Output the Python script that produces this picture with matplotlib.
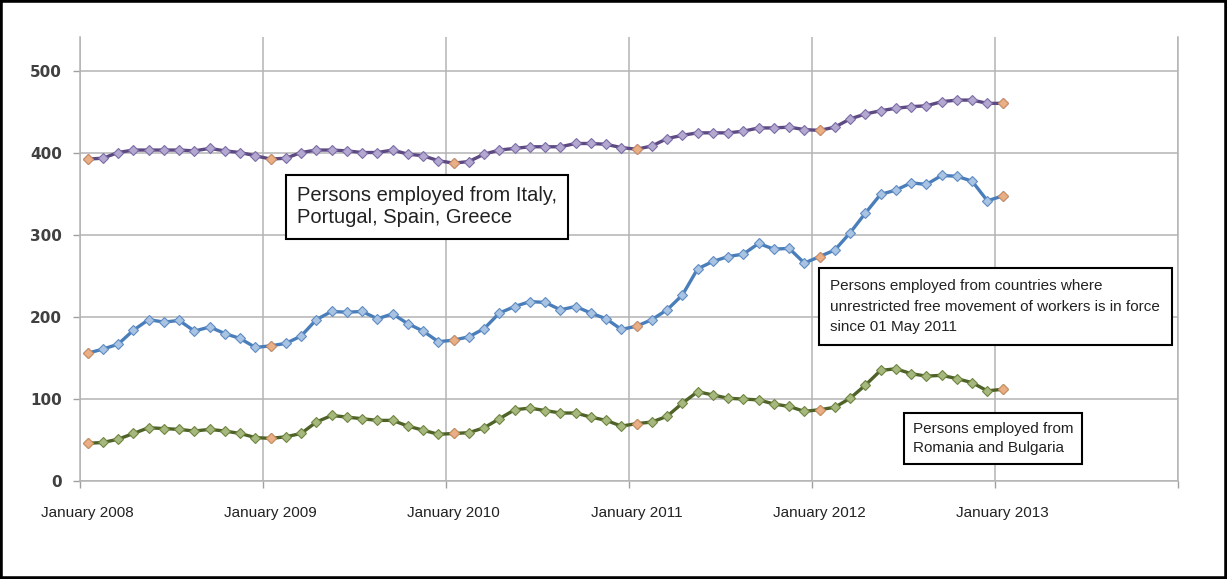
import numpy as np
import matplotlib
matplotlib.use('Agg')
import matplotlib.pyplot as plt
from matplotlib import font_manager as fm
from matplotlib.patches import Rectangle

# monthly values, January 2008 .. January 2013 (thousands)
south = [393, 394, 401, 404, 404, 404, 404, 403, 406, 403, 401, 397,
         393, 394, 401, 404, 404, 403, 401, 401, 404, 399, 397, 391,
         388, 390, 399, 404, 406, 408, 408, 408, 412, 412, 411, 407,
         405, 409, 418, 422, 425, 425, 425, 427, 431, 431, 432, 429,
         428, 432, 442, 448, 452, 455, 457, 458, 463, 465, 465, 461,
         461]
free_movement = [156, 161, 167, 184, 197, 194, 196, 183, 188, 180, 174, 163,
                 165, 168, 177, 197, 207, 206, 207, 198, 204, 192, 183, 170,
                 172, 176, 186, 205, 213, 219, 218, 209, 213, 205, 198, 185,
                 189, 197, 209, 227, 259, 268, 274, 277, 290, 283, 284, 266,
                 274, 282, 303, 327, 350, 355, 364, 362, 373, 372, 366, 342,
                 348]
ro_bg = [46, 47, 51, 58, 65, 64, 63, 61, 63, 61, 58, 53,
         52, 54, 58, 72, 80, 78, 76, 74, 74, 67, 62, 57,
         58, 59, 65, 76, 87, 89, 86, 83, 83, 78, 74, 67,
         70, 72, 79, 95, 109, 105, 101, 100, 99, 94, 91, 85,
         87, 90, 101, 117, 135, 137, 131, 128, 129, 125, 120, 110,
         112]
years = ['2008', '2009', '2010', '2011', '2012', '2013']
x_labels = ['January ' + y for y in years]
n_slots = 72  # category axis runs to December 2013

names = {f.name for f in fm.fontManager.ttflist}
if 'Liberation Sans Narrow' in names:
    narrow, nsize = 'Liberation Sans Narrow', 13
else:
    narrow, nsize = 'Liberation Sans', 11

fig = plt.figure(figsize=(12.27, 5.79), dpi=100)
ax = fig.add_axes([80 / 1227, 98 / 579, 1098 / 1227, 444 / 579])

x = np.arange(len(south))
jan = x[::12]
series = [
    (south, '#5e4a82', '#b3a8cf', '#7d6ca8'),
    (free_movement, '#4a7ebb', '#a9c3e3', '#5f8cc4'),
    (ro_bg, '#4f6228', '#a6b87e', '#6f8540'),
]
for vals, lc, mf, me in series:
    vals = np.array(vals)
    ax.plot(x, vals, color=lc, lw=2.4, zorder=3)
    ax.plot(x, vals, ls='none', marker='D', ms=5.5, mfc=mf, mec=me, mew=0.8, zorder=4)
    ax.plot(jan, vals[jan], ls='none', marker='D', ms=5.5, mfc='#e9b088', mec='#d08e60', mew=0.8, zorder=5)

ax.set_xlim(-0.5, n_slots - 0.5)
ax.set_ylim(0, 542)
ax.set_yticks(np.arange(0, 501, 100))
ax.set_xticks(np.arange(0, 61, 12))
ax.set_xticklabels(x_labels, fontfamily=narrow, fontsize=nsize, color='#222222')
ax.set_xticks(np.arange(-0.5, n_slots, 12), minor=True)
ax.tick_params(axis='x', which='major', length=0, pad=18)
ax.tick_params(axis='x', which='minor', length=5, color='#a0a0a0', width=1)
ax.tick_params(axis='y', length=5, color='#a0a0a0', width=1, pad=8, labelcolor='#404040')
for lab in ax.get_yticklabels():
    lab.set_fontweight('bold')
    lab.set_fontsize(11)
ax.grid(which='minor', axis='x', color='#b4b4b4', lw=1.1)
ax.grid(which='major', axis='y', color='#b4b4b4', lw=1.1)
ax.set_axisbelow(True)
for side in ['left', 'bottom', 'right']:
    ax.spines[side].set_color('#b4b4b4')
    ax.spines[side].set_linewidth(1.1)
ax.spines['top'].set_visible(False)

box = dict(boxstyle='square,pad=0.55', fc='white', ec='black', lw=1.5)
ax.text(13.73, 335, 'Persons employed from Italy,\nPortugal, Spain, Greece',
        fontfamily='Liberation Sans', fontsize=14.5, color='#222222',
        ha='left', va='center', linespacing=1.25, bbox=box, zorder=6)
ax.text(48.7, 213, 'Persons employed from countries where\nunrestricted free movement of workers is in force\nsince 01 May 2011',
        fontfamily=narrow, fontsize=nsize, color='#222222',
        ha='left', va='center', linespacing=1.55,
        bbox=dict(boxstyle='square,pad=0.75', fc='white', ec='black', lw=1.5), zorder=6)
ax.text(54.1, 52, 'Persons employed from\nRomania and Bulgaria',
        fontfamily=narrow, fontsize=nsize, color='#222222',
        ha='left', va='center', linespacing=1.5, bbox=box, zorder=6)

fig.patches.append(Rectangle((0, 0), 1, 1, transform=fig.transFigure,
                             fill=False, ec='black', lw=4))
fig.savefig('out.png', dpi=100)
